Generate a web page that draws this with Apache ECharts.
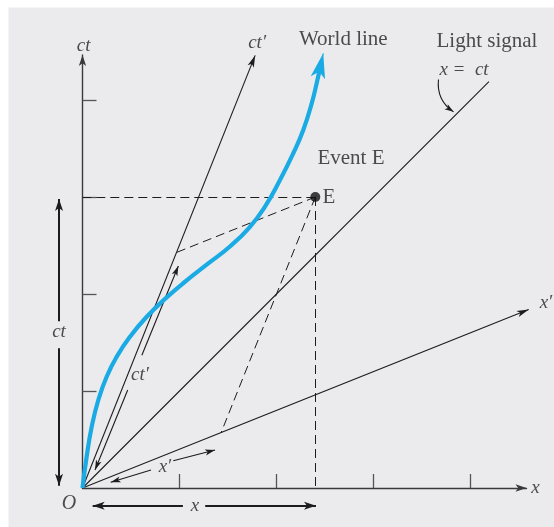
<!DOCTYPE html>
<html><head><meta charset="utf-8">
<script src="https://cdn.jsdelivr.net/npm/echarts@6/dist/echarts.min.js"></script>
<style>html,body{margin:0;padding:0;background:#fff}#c{width:554px;height:527px}</style>
</head><body><div id="c"></div>
<script>
// ---- data (units: one tick = 1) ----
const xTicks = [1, 2, 3, 4];
const ctTicks = [1, 2, 3, 4];
const eventE = [2.4, 3.0];
const worldLine = [[0,0],[0.043,0.323],[0.095,0.632],[0.163,0.907],[0.249,1.147],[0.353,1.354],[0.49,1.56],[0.662,1.766],[0.868,1.965],[1.074,2.14],[1.29,2.31],[1.52,2.49],[1.72,2.685],[1.881,2.9],[2.036,3.175],[2.173,3.451],[2.276,3.691],[2.363,3.966],[2.414,4.172],[2.455,4.36]];
const worldLineHead = [[2.414, 4.172], [2.482, 4.481]];
const lightSignal = [[0, 0], [4.19, 4.19]];
const ctPrimeAxis = [[0, 0], [1.78, 4.46]];
const xPrimeAxis = [[0, 0], [4.6, 1.84]];
const dashedTo = [[0, 3.0], [2.4, 0], [0.971, 2.429], [1.429, 0.571]];
const ctSpan = [[[-0.242, 1.72], [-0.242, 2.98]], [[-0.242, 1.44], [-0.242, 0.024]]];
const xSpan = [[[1.035, -0.182], [0.105, -0.182]], [[1.265, -0.182], [2.407, -0.182]]];
const ctPrimeSpan = [[[0.612, 1.368], [0.988, 2.289]], [[0.466, 1.010], [0.129, 0.186]]];
const xPrimeSpan = [[[0.936, 0.281], [1.366, 0.392]], [[0.706, 0.186], [0.291, 0.059]]];
const pointerArrow = [[3.67, 4.212], [3.825, 3.878]];
const labels = [
  { name: 'ct', value: [0.012, 4.56], italic: true, size: 19 },
  { name: 'ct\u2032', value: [1.80, 4.588], italic: true, size: 19 },
  { name: 'World line', value: [2.689, 4.626], italic: false, size: 21 },
  { name: 'Light signal', value: [4.17, 4.608], italic: false, size: 21 },
  { name: 'x =  ct', value: [3.933, 4.309], italic: true, size: 19 },
  { name: 'Event E', value: [2.768, 3.392], italic: false, size: 21 },
  { name: 'E', value: [2.541, 3.0], italic: false, size: 21 },
  { name: 'x\u2032', value: [4.778, 1.91], italic: true, size: 19 },
  { name: 'x', value: [4.67, 0.0], italic: true, size: 19 },
  { name: 'O', value: [-0.139, -0.158], italic: true, size: 20 },
  { name: 'x', value: [1.16, -0.182], italic: true, size: 19 },
  { name: 'ct', value: [-0.242, 1.611], italic: true, size: 19 },
  { name: 'ct\u2032', value: [0.593, 1.165], italic: true, size: 19 },
  { name: 'x\u2032', value: [0.85, 0.22], italic: true, size: 19 }
];

// ---- layout ----
const xMax = 4.577, yMax = 4.464;
const gridLeft = 82.5, gridRight = 27.53, gridTop = 55.0, gridBottom = 39;
const FONT = 'Liberation Serif';
const INK = '#1c1c1c';
const BLUE = '#1aabe4';

const chart = echarts.init(document.getElementById('c'), null, { renderer: 'canvas' });

function arrowLines(name, segs, width, size, color) {
  return {
    name, type: 'lines', coordinateSystem: 'cartesian2d', clip: false, silent: true,
    symbol: ['none', 'arrow'], symbolSize: [0, size],
    lineStyle: { color: color || INK, width, opacity: 1, curveness: 0 },
    data: segs.map(s => ({ coords: s })),
    z: 5
  };
}

chart.setOption({
  backgroundColor: '#ffffff',
  animation: false,
  graphic: [{ type: 'rect', z: -100, silent: true, shape: { x: 8.5, y: 7.5, width: 546, height: 520 }, style: { fill: '#ebebee' } }],
  grid: { left: gridLeft, right: gridRight, top: gridTop, bottom: gridBottom, show: false },
  xAxis: {
    type: 'value', min: 0, max: xMax, interval: 1,
    axisLine: { show: true, onZero: false, symbol: ['none', 'arrow'], symbolSize: [5.5, 11], lineStyle: { color: '#3a3a3a', width: 1.4 } },
    axisTick: { show: true, inside: true, length: 14, customValues: xTicks, lineStyle: { color: '#555', width: 1.3 } },
    axisLabel: { show: false }, splitLine: { show: false }
  },
  yAxis: {
    type: 'value', min: 0, max: yMax, interval: 1,
    axisLine: { show: true, onZero: false, symbol: ['none', 'arrow'], symbolSize: [5.5, 11], lineStyle: { color: '#3a3a3a', width: 1.4 } },
    axisTick: { show: true, inside: true, length: 14, customValues: ctTicks, lineStyle: { color: '#555', width: 1.3 } },
    axisLabel: { show: false }, splitLine: { show: false }
  },
  series: [
    { name: 'Light signal', type: 'lines', coordinateSystem: 'cartesian2d', clip: false, silent: true,
      lineStyle: { color: INK, width: 1.1, opacity: 1 }, data: [{ coords: lightSignal }], z: 4 },
    arrowLines('ct prime axis', [ctPrimeAxis], 1.1, [5, 12]),
    arrowLines('x prime axis', [xPrimeAxis], 1.1, [5, 12]),
    { name: 'dashed', type: 'lines', coordinateSystem: 'cartesian2d', clip: false, silent: true,
      lineStyle: { color: INK, width: 1, type: [9, 5], opacity: 1 },
      data: dashedTo.map(p => ({ coords: [eventE, p] })), z: 4 },
    { name: 'World line', type: 'line', data: worldLine, smooth: 0.5, clip: false, showSymbol: false, symbol: 'none',
      lineStyle: { color: BLUE, width: 4.2, cap: 'butt' }, z: 6, silent: true },
    arrowLines('World line head', [worldLineHead], 1, [11, 25], BLUE),
    arrowLines('ct span', ctSpan, 2, [6, 12]),
    arrowLines('x span', xSpan, 2, [6, 12]),
    arrowLines('ct prime span', ctPrimeSpan, 1.1, [4.5, 10]),
    arrowLines('x prime span', xPrimeSpan, 1.1, [4.5, 10]),
    { name: 'pointer', type: 'lines', coordinateSystem: 'cartesian2d', clip: false, silent: true,
      symbol: ['none', 'arrow'], symbolSize: [0, [4.5, 9]],
      lineStyle: { color: INK, width: 1.1, curveness: -0.3, opacity: 1 },
      data: [{ coords: pointerArrow }], z: 5 },
    { name: 'Event', type: 'scatter', data: [eventE], symbol: 'circle', symbolSize: 10, clip: false,
      itemStyle: { color: '#111' }, z: 8, silent: true },
    { name: 'labels', type: 'scatter', clip: false, silent: true, symbolSize: 0, z: 9,
      data: labels.map(l => ({
        name: l.name, value: l.value,
        label: { show: true, position: 'inside', formatter: '{b}', color: '#222',
          fontFamily: FONT, fontSize: l.size, fontStyle: l.italic ? 'italic' : 'normal', align: 'center', verticalAlign: 'middle' }
      })) }
  ]
});
</script></body></html>
